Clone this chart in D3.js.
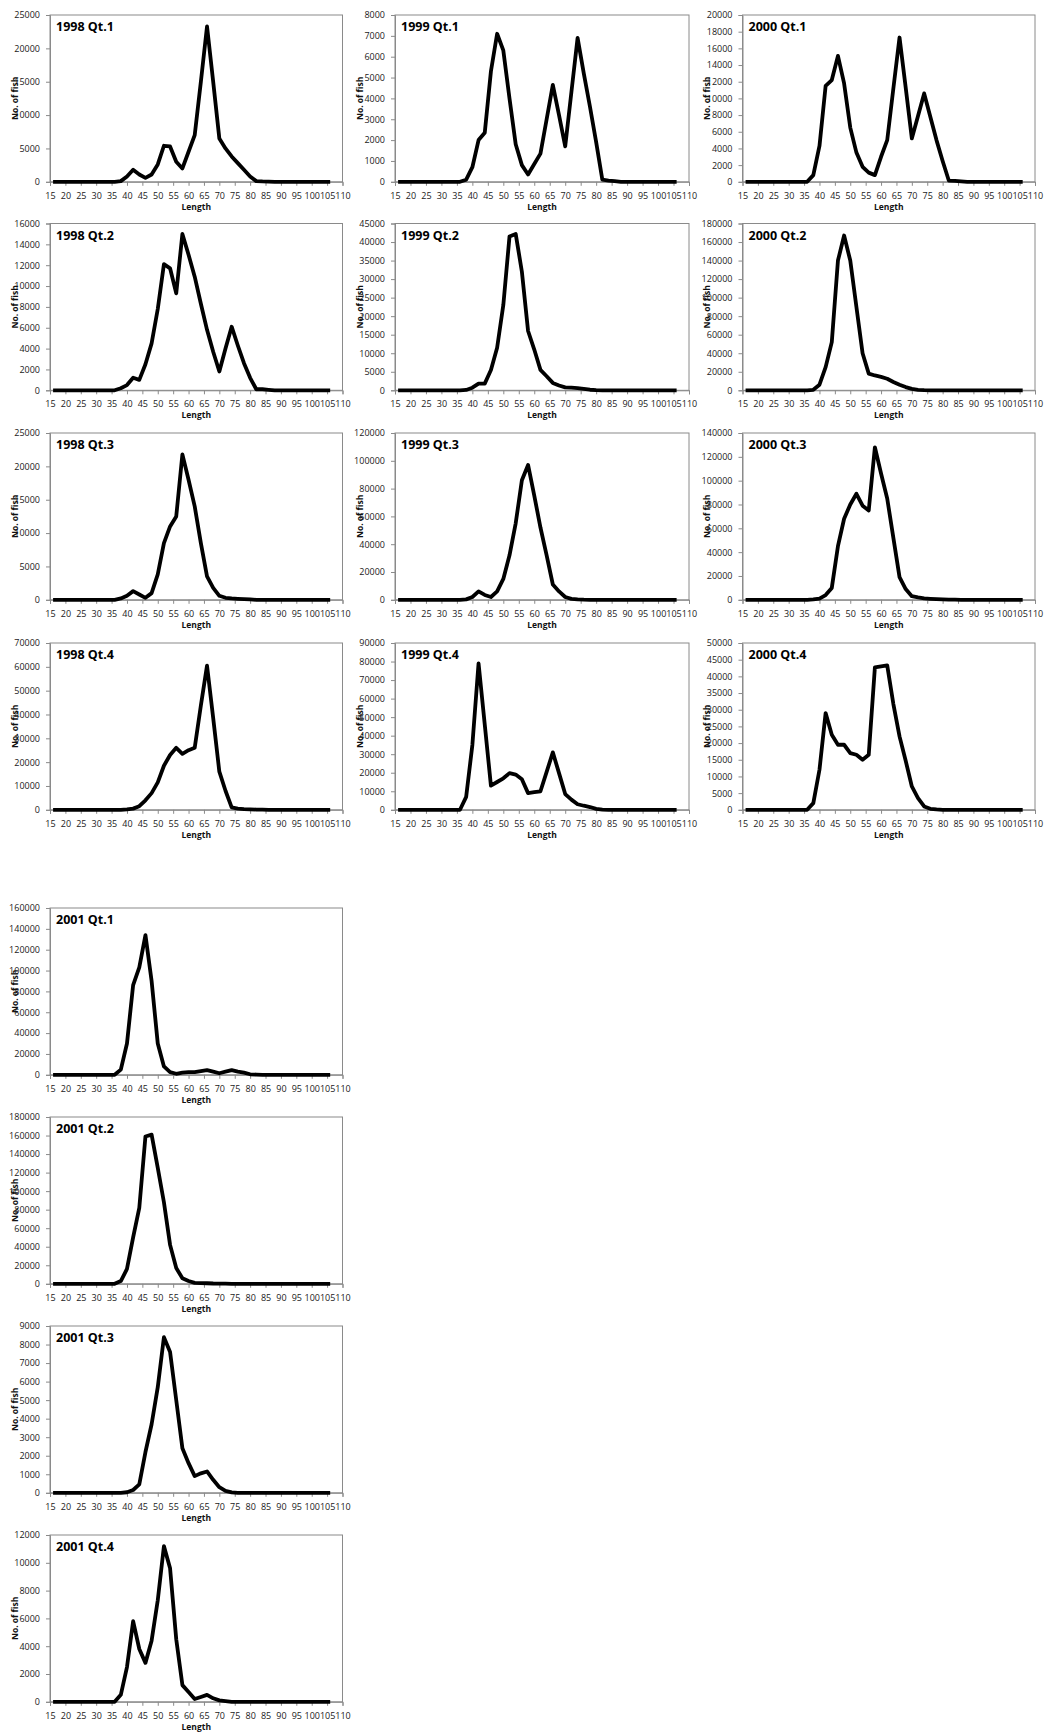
<!DOCTYPE html>
<html><head><meta charset="utf-8">
<script src="https://cdn.jsdelivr.net/npm/d3@7"></script>
<style>body{margin:0;background:#fff}svg{display:block}</style>
</head><body>
<svg id="chart" width="1046" height="1733"></svg>
<script>
// Length classes (cm)
const lengths = [16,18,20,22,24,26,28,30,32,34,36,38,40,42,44,46,48,50,52,54,56,58,60,62,64,66,68,70,72,74,76,78,80,82,84,86,88,90,92,94,96,98,100,102,104,106];
const xTicks = [15,20,25,30,35,40,45,50,55,60,65,70,75,80,85,90,95,100,105,110];

// Numbers of fish per length class (16..34 all zero, then 36..106)
const z = [0,0,0,0,0,0,0,0,0,0];
const n1998q1 = [...z, 0,100,800,1800,1100,600,1100,2600,5400,5300,3000,2000,4500,7000,15000,23300,15000,6500,5000,3800,2800,1800,800,100,50,30, 0,0,0,0,0,0,0,0,0,0];
const n1999q1 = [...z, 0,100,700,2000,2350,5300,7100,6300,4000,1800,800,350,850,1350,3000,4650,3200,1700,4300,6900,5200,3600,1900,100,60,30, 0,0,0,0,0,0,0,0,0,0];
const n2000q1 = [...z, 0,800,4300,11500,12200,15100,11800,6500,3500,1800,1100,800,3000,5000,11200,17300,11300,5200,7900,10600,7800,5000,2500,150,100,50, 0,0,0,0,0,0,0,0,0,0];
const n1998q2 = [...z, 0,200,500,1200,1000,2500,4500,7800,12100,11700,9300,15000,13000,10900,8300,5800,3700,1800,4000,6100,4300,2600,1200,100,100,50, 0,0,0,0,0,0,0,0,0,0];
const n1999q2 = [...z, 0,100,700,1800,1800,5500,11500,23000,41500,42200,32000,16000,11000,5500,3800,2000,1300,800,700,600,400,150,50,0,0,0, 0,0,0,0,0,0,0,0,0,0];
const n2000q2 = [...z, 0,500,6000,25000,52000,140000,167000,140000,90000,40000,18000,16000,14500,12500,9000,6000,3500,1500,400,100,0,0,0,0,0,0, 0,0,0,0,0,0,0,0,0,0];
const n1998q3 = [...z, 0,200,600,1300,800,300,1000,3800,8500,11000,12500,21800,18000,14000,8500,3500,1800,600,300,200,150,100,50,0,0,0, 0,0,0,0,0,0,0,0,0,0];
const n1999q3 = [...z, 0,300,2000,6000,3500,2000,6000,15000,32000,55000,86000,97000,75000,52000,32000,11000,6000,2000,700,300,100,0,0,0,0,0, 0,0,0,0,0,0,0,0,0,0];
const n2000q3 = [...z, 0,300,1000,4000,10000,45000,68000,80000,89000,79000,75000,128000,106000,85000,52000,19000,9000,3000,2000,1200,800,500,300,150,100,0, 0,0,0,0,0,0,0,0,0,0];
const n1998q4 = [...z, 0,0,200,500,1500,4000,7000,11500,18500,23000,26000,23500,25000,26000,43800,60500,38500,16000,8000,1000,500,300,200,100,50,0, 0,0,0,0,0,0,0,0,0,0];
const n1999q4 = [...z, 0,7000,35000,79000,46000,13000,15000,17000,19800,19000,16500,9000,9500,10000,20500,31000,19800,8500,5500,3000,2200,1500,500,100,0,0, 0,0,0,0,0,0,0,0,0,0];
const n2000q4 = [...z, 0,2000,12000,29000,22500,19500,19500,17000,16500,15000,16500,42700,43000,43300,31700,22000,14700,7000,3500,1000,300,100,0,0,0,0, 0,0,0,0,0,0,0,0,0,0];
const n2001q1 = [...z, 0,5000,30000,86000,103000,134000,90000,30000,8000,2500,1000,2000,2500,2500,3500,4500,3000,1500,3000,4500,3000,2000,500,200,0,0, 0,0,0,0,0,0,0,0,0,0];
const n2001q2 = [...z, 0,3000,16000,50000,82000,159000,161000,125000,88000,42000,17000,6000,3000,1000,800,600,300,200,100,0,0,0,0,0,0,0, 0,0,0,0,0,0,0,0,0,0];
const n2001q3 = [...z, 0,0,30,150,450,2200,3700,5700,8400,7600,5000,2400,1600,900,1050,1150,700,300,100,20,0,0,0,0,0,0, 0,0,0,0,0,0,0,0,0,0];
const n2001q4 = [...z, 0,500,2500,5800,3800,2800,4400,7300,11200,9600,4500,1200,700,200,350,500,250,100,50,0,0,0,0,0,0,0, 0,0,0,0,0,0,0,0,0,0];

const panelTitles = ["1998 Qt.1","1999 Qt.1","2000 Qt.1","1998 Qt.2","1999 Qt.2","2000 Qt.2","1998 Qt.3","1999 Qt.3","2000 Qt.3","1998 Qt.4","1999 Qt.4","2000 Qt.4","2001 Qt.1","2001 Qt.2","2001 Qt.3","2001 Qt.4"];
const panelSeries = [n1998q1,n1999q1,n2000q1,n1998q2,n1999q2,n2000q2,n1998q3,n1999q3,n2000q3,n1998q4,n1999q4,n2000q4,n2001q1,n2001q2,n2001q3,n2001q4];
const yMax  = [25000,8000,20000,16000,45000,180000,25000,120000,140000,70000,90000,50000,160000,180000,9000,12000];
const yStep = [5000,1000,2000,2000,5000,20000,5000,20000,20000,10000,10000,5000,20000,20000,1000,2000];

// layout
const colLeft = [50, 395, 742.5], colRight = [342.5, 689, 1035];
const rowTop = [15, 223.5, 433, 643, 908, 1117, 1326, 1535];
const plotH = 166.8;
const FONT = "'Open Sans', 'Liberation Sans', sans-serif";

const svg = d3.select("#chart");
svg.append("rect").attr("width",1046).attr("height",1733).attr("fill","#fff");

panelTitles.forEach((title, i) => {
  let row, col;
  if (i < 12) { row = Math.floor(i/3); col = i % 3; } else { row = 4 + (i-12); col = 0; }
  const x0 = colLeft[col], x1 = colRight[col];
  const y0 = rowTop[row], y1 = y0 + plotH;
  const x = d3.scaleLinear().domain([15,110]).range([x0,x1]);
  const y = d3.scaleLinear().domain([0,yMax[i]]).range([y1,y0]);
  const g = svg.append("g");

  // plot border
  g.append("rect").attr("x",x0).attr("y",y0).attr("width",x1-x0).attr("height",y1-y0)
    .attr("fill","none").attr("stroke","#8a8a8a").attr("stroke-width",1);

  const yt = d3.range(0, yMax[i] + yStep[i]/2, yStep[i]);
  const ya = g.append("g").attr("transform",`translate(${x0},0)`)
    .call(d3.axisLeft(y).tickValues(yt).tickSize(4).tickPadding(6).tickFormat(d3.format("d")));
  const xa = g.append("g").attr("transform",`translate(0,${y1})`)
    .call(d3.axisBottom(x).tickValues(xTicks).tickSize(4).tickPadding(6.5).tickFormat(d3.format("d")));
  [ya, xa].forEach(a => {
    a.select(".domain").attr("stroke","#8a8a8a");
    a.selectAll(".tick line").attr("stroke","#8a8a8a");
    a.selectAll(".tick text").attr("fill","#1a1a1a").style("font-family",FONT).style("font-size","9px");
  });

  // axis titles
  g.append("text").attr("transform",`translate(${x0-35},${(y0+y1)/2}) rotate(-90)`)
    .attr("text-anchor","middle").attr("dy","0.35em")
    .style("font-family",FONT).style("font-size","8.5px").style("font-weight","bold").attr("fill","#111")
    .text("No. of fish");
  g.append("text").attr("x",(x0+x1)/2).attr("y",y1+28)
    .attr("text-anchor","middle")
    .style("font-family",FONT).style("font-size","8.5px").style("font-weight","bold").attr("fill","#111")
    .text("Length");

  // panel title
  g.append("text").attr("x",x0+6).attr("y",y0+16)
    .style("font-family",FONT).style("font-size","12.5px").style("font-weight","bold").attr("fill","#000")
    .text(title);

  // line
  const pts = lengths.map((L,k) => [L, panelSeries[i][k]]);
  g.append("path").datum(pts)
    .attr("d", d3.line().x(d => x(d[0])).y(d => y(d[1])))
    .attr("fill","none").attr("stroke","#000").attr("stroke-width",3.8)
    .attr("stroke-linejoin","round").attr("stroke-linecap","butt");
});
</script>
</body></html>
